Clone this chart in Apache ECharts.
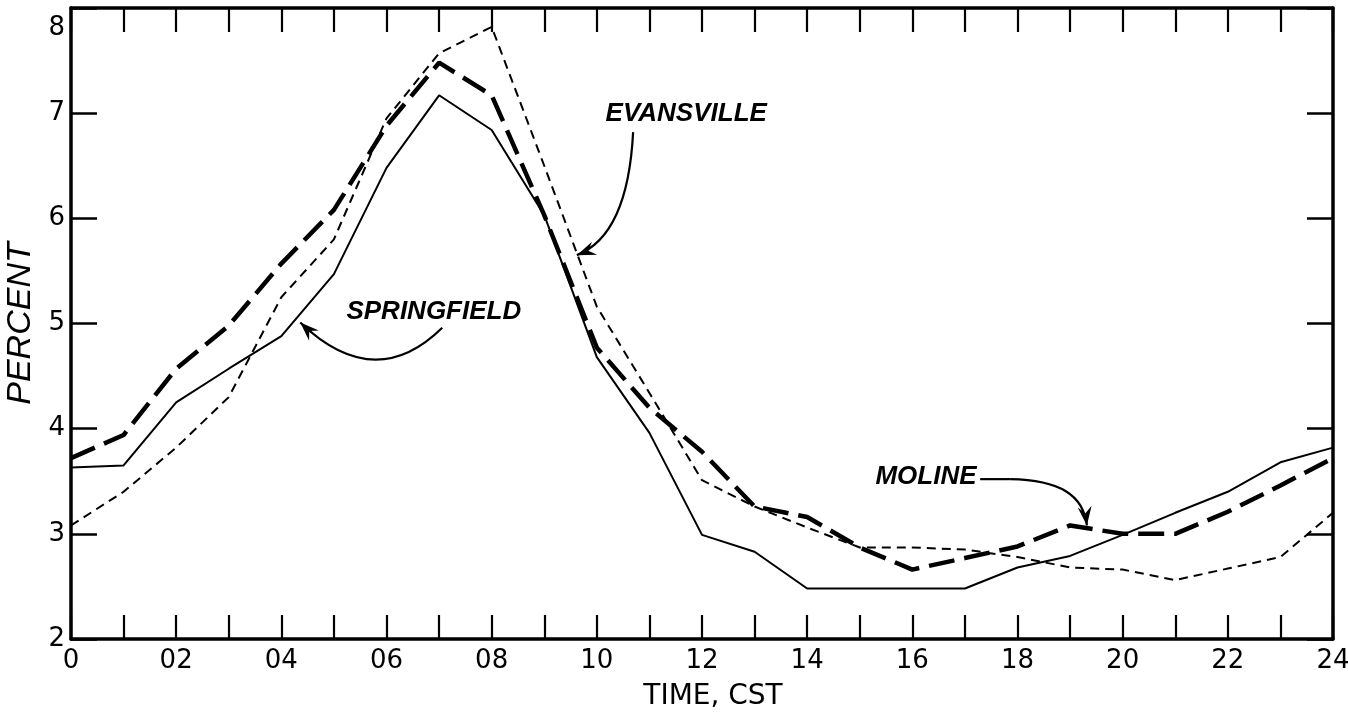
<!DOCTYPE html>
<html><head><meta charset="utf-8">
<script src="https://cdn.jsdelivr.net/npm/echarts@6/dist/echarts.min.js"></script>
<style>html,body{margin:0;padding:0;background:#fff}#c{width:1348px;height:715px}</style>
</head><body><div id="c"></div>
<script>
// ---- data ----
const hours = [0,1,2,3,4,5,6,7,8,9,10,11,12,13,14,15,16,17,18,19,20,21,22,23,24];
const springfield = [3.63,3.65,4.25,4.57,4.88,5.47,6.48,7.17,6.84,6.03,4.68,3.96,2.99,2.83,2.48,2.48,2.48,2.48,2.68,2.79,2.99,3.20,3.40,3.68,3.82];
const moline      = [3.72,3.94,4.57,4.98,5.57,6.08,6.88,7.48,7.17,6.03,4.77,4.20,3.78,3.26,3.16,2.87,2.66,2.77,2.88,3.08,3.00,3.00,3.21,3.46,3.72];
const evansville  = [3.08,3.40,3.82,4.30,5.25,5.80,6.95,7.57,7.82,6.50,5.16,4.34,3.51,3.26,3.06,2.87,2.87,2.85,2.78,2.68,2.66,2.56,2.67,2.78,3.20];
const xTickLabels = ['0','02','04','06','08','10','12','14','16','18','20','22','24'];
const seriesNames = ['SPRINGFIELD','MOLINE','EVANSVILLE'];

const chart = echarts.init(document.getElementById('c'), null, {renderer:'canvas'});
const FONT = 'DejaVu Sans';
const black = '#000';

function pairs(vals){ return hours.map((h,i)=>[h, vals[i]]); }

const axisLineStyle = {show:true, onZero:false, lineStyle:{color:black, width:3.5}};
const tickStyleX = {show:true, inside:true, length:24, lineStyle:{color:black, width:2.2}};
const tickStyleY = {show:true, inside:true, length:26, lineStyle:{color:black, width:2.5}};

const option = {
  backgroundColor:'#fff',
  animation:false,
  grid:{left:71, right:15, top:8, bottom:76, containLabel:false, outerBoundsMode:'none'},
  xAxis:[
    {type:'value', min:0, max:24, interval:1, position:'bottom',
     axisLine:axisLineStyle, axisTick:tickStyleX, splitLine:{show:false},
     axisLabel:{color:black, fontFamily:FONT, fontSize:26, margin:9,
       formatter:v=> (v%2===0 ? xTickLabels[v/2] : '')},
     name:'TIME, CST', nameLocation:'middle', nameGap:44,
     nameTextStyle:{color:black, fontFamily:FONT, fontSize:28, padding:[0,0,0,22]}},
    {type:'value', min:0, max:24, interval:1, position:'top',
     axisLine:axisLineStyle, axisTick:tickStyleX, splitLine:{show:false}, axisLabel:{show:false}}
  ],
  yAxis:[
    {type:'value', min:2, max:8, interval:1, position:'left',
     axisLine:axisLineStyle, axisTick:tickStyleY, splitLine:{show:false},
     axisLabel:{color:black, fontFamily:FONT, fontSize:26, margin:6,
       formatter:v=> (v===8 ? '{t|8}' : String(v)),
       rich:{t:{fontFamily:FONT, fontSize:26, color:black, padding:[40,0,0,0]}}},
     name:'PERCENT', nameLocation:'middle', nameGap:31, nameRotate:90,
     nameTextStyle:{color:black, fontFamily:'Liberation Sans', fontSize:34, fontStyle:'italic'}},
    {type:'value', min:2, max:8, interval:1, position:'right',
     axisLine:axisLineStyle, axisTick:tickStyleY, splitLine:{show:false}, axisLabel:{show:false}}
  ],
  series:[
    {name:seriesNames[0], type:'line', data:pairs(springfield), symbol:'none',
     lineStyle:{color:black, width:2, type:'solid'}, z:3},
    {name:seriesNames[1], type:'line', data:pairs(moline), symbol:'none',
     lineStyle:{color:black, width:4.5, type:[26,10]}, z:4},
    {name:seriesNames[2], type:'line', data:pairs(evansville), symbol:'none',
     lineStyle:{color:black, width:2, type:[9,6]}, z:2}
  ]
};
chart.setOption(option);

// ---- annotations (placed in data coordinates) ----
function P(h,v){ return chart.convertToPixel({xAxisIndex:0, yAxisIndex:0}, [h,v]); }
function arrowHead(tip, from, len, half){
  const dx = tip[0]-from[0], dy = tip[1]-from[1];
  const d = Math.sqrt(dx*dx+dy*dy); const ux = dx/d, uy = dy/d;
  const bx = tip[0]-ux*len, by = tip[1]-uy*len;
  return {type:'polygon', shape:{points:[tip,[bx-uy*half, by+ux*half],[tip[0]-ux*len*0.65, tip[1]-uy*len*0.65],[bx+uy*half, by-ux*half]]},
          style:{fill:black}, z:10};
}
const txtStyle = {fill:black, font:'italic bold 26px "Liberation Sans"', textAlign:'center', textVerticalAlign:'middle'};
const g = [];
const labels = [
  {text:seriesNames[2], at:[11.70, 6.99]},
  {text:seriesNames[0], at:[6.90, 5.11]},
  {text:seriesNames[1], at:[16.26, 3.54]}
];
labels.forEach(l=>{ const p = P(l.at[0], l.at[1]); g.push({type:'text', x:p[0], y:p[1], style:Object.assign({text:l.text}, txtStyle), z:10}); });

// Evansville arrow (quadratic)
{
  const a = P(10.69, 6.82), c = P(10.59, 5.84), t = P(9.62, 5.65);
  g.push({type:'bezierCurve', shape:{x1:a[0],y1:a[1],x2:t[0],y2:t[1],cpx1:c[0],cpy1:c[1]}, style:{stroke:black, lineWidth:2.2, fill:null}, z:10});
  g.push(arrowHead(t, c, 19, 7));
}
// Springfield arrow (quadratic)
{
  const a = P(7.06, 4.96), c = P(5.78, 4.33), t = P(4.36, 5.01);
  g.push({type:'bezierCurve', shape:{x1:a[0],y1:a[1],x2:t[0],y2:t[1],cpx1:c[0],cpy1:c[1]}, style:{stroke:black, lineWidth:2.2, fill:null}, z:10});
  g.push(arrowHead(t, c, 19, 7));
}
// Moline arrow (line + cubic)
{
  const a = P(17.29, 3.52), b = P(17.86, 3.52), c1 = P(18.81, 3.51), c2 = P(19.25, 3.37), t = P(19.32, 3.08);
  g.push({type:'line', shape:{x1:a[0],y1:a[1],x2:b[0],y2:b[1]}, style:{stroke:black, lineWidth:2.2}, z:10});
  g.push({type:'bezierCurve', shape:{x1:b[0],y1:b[1],x2:t[0],y2:t[1],cpx1:c1[0],cpy1:c1[1],cpx2:c2[0],cpy2:c2[1]}, style:{stroke:black, lineWidth:2.2, fill:null}, z:10});
  g.push(arrowHead(t, c2, 19, 7));
}
chart.setOption({graphic:{elements:g}});
</script>
</body></html>
